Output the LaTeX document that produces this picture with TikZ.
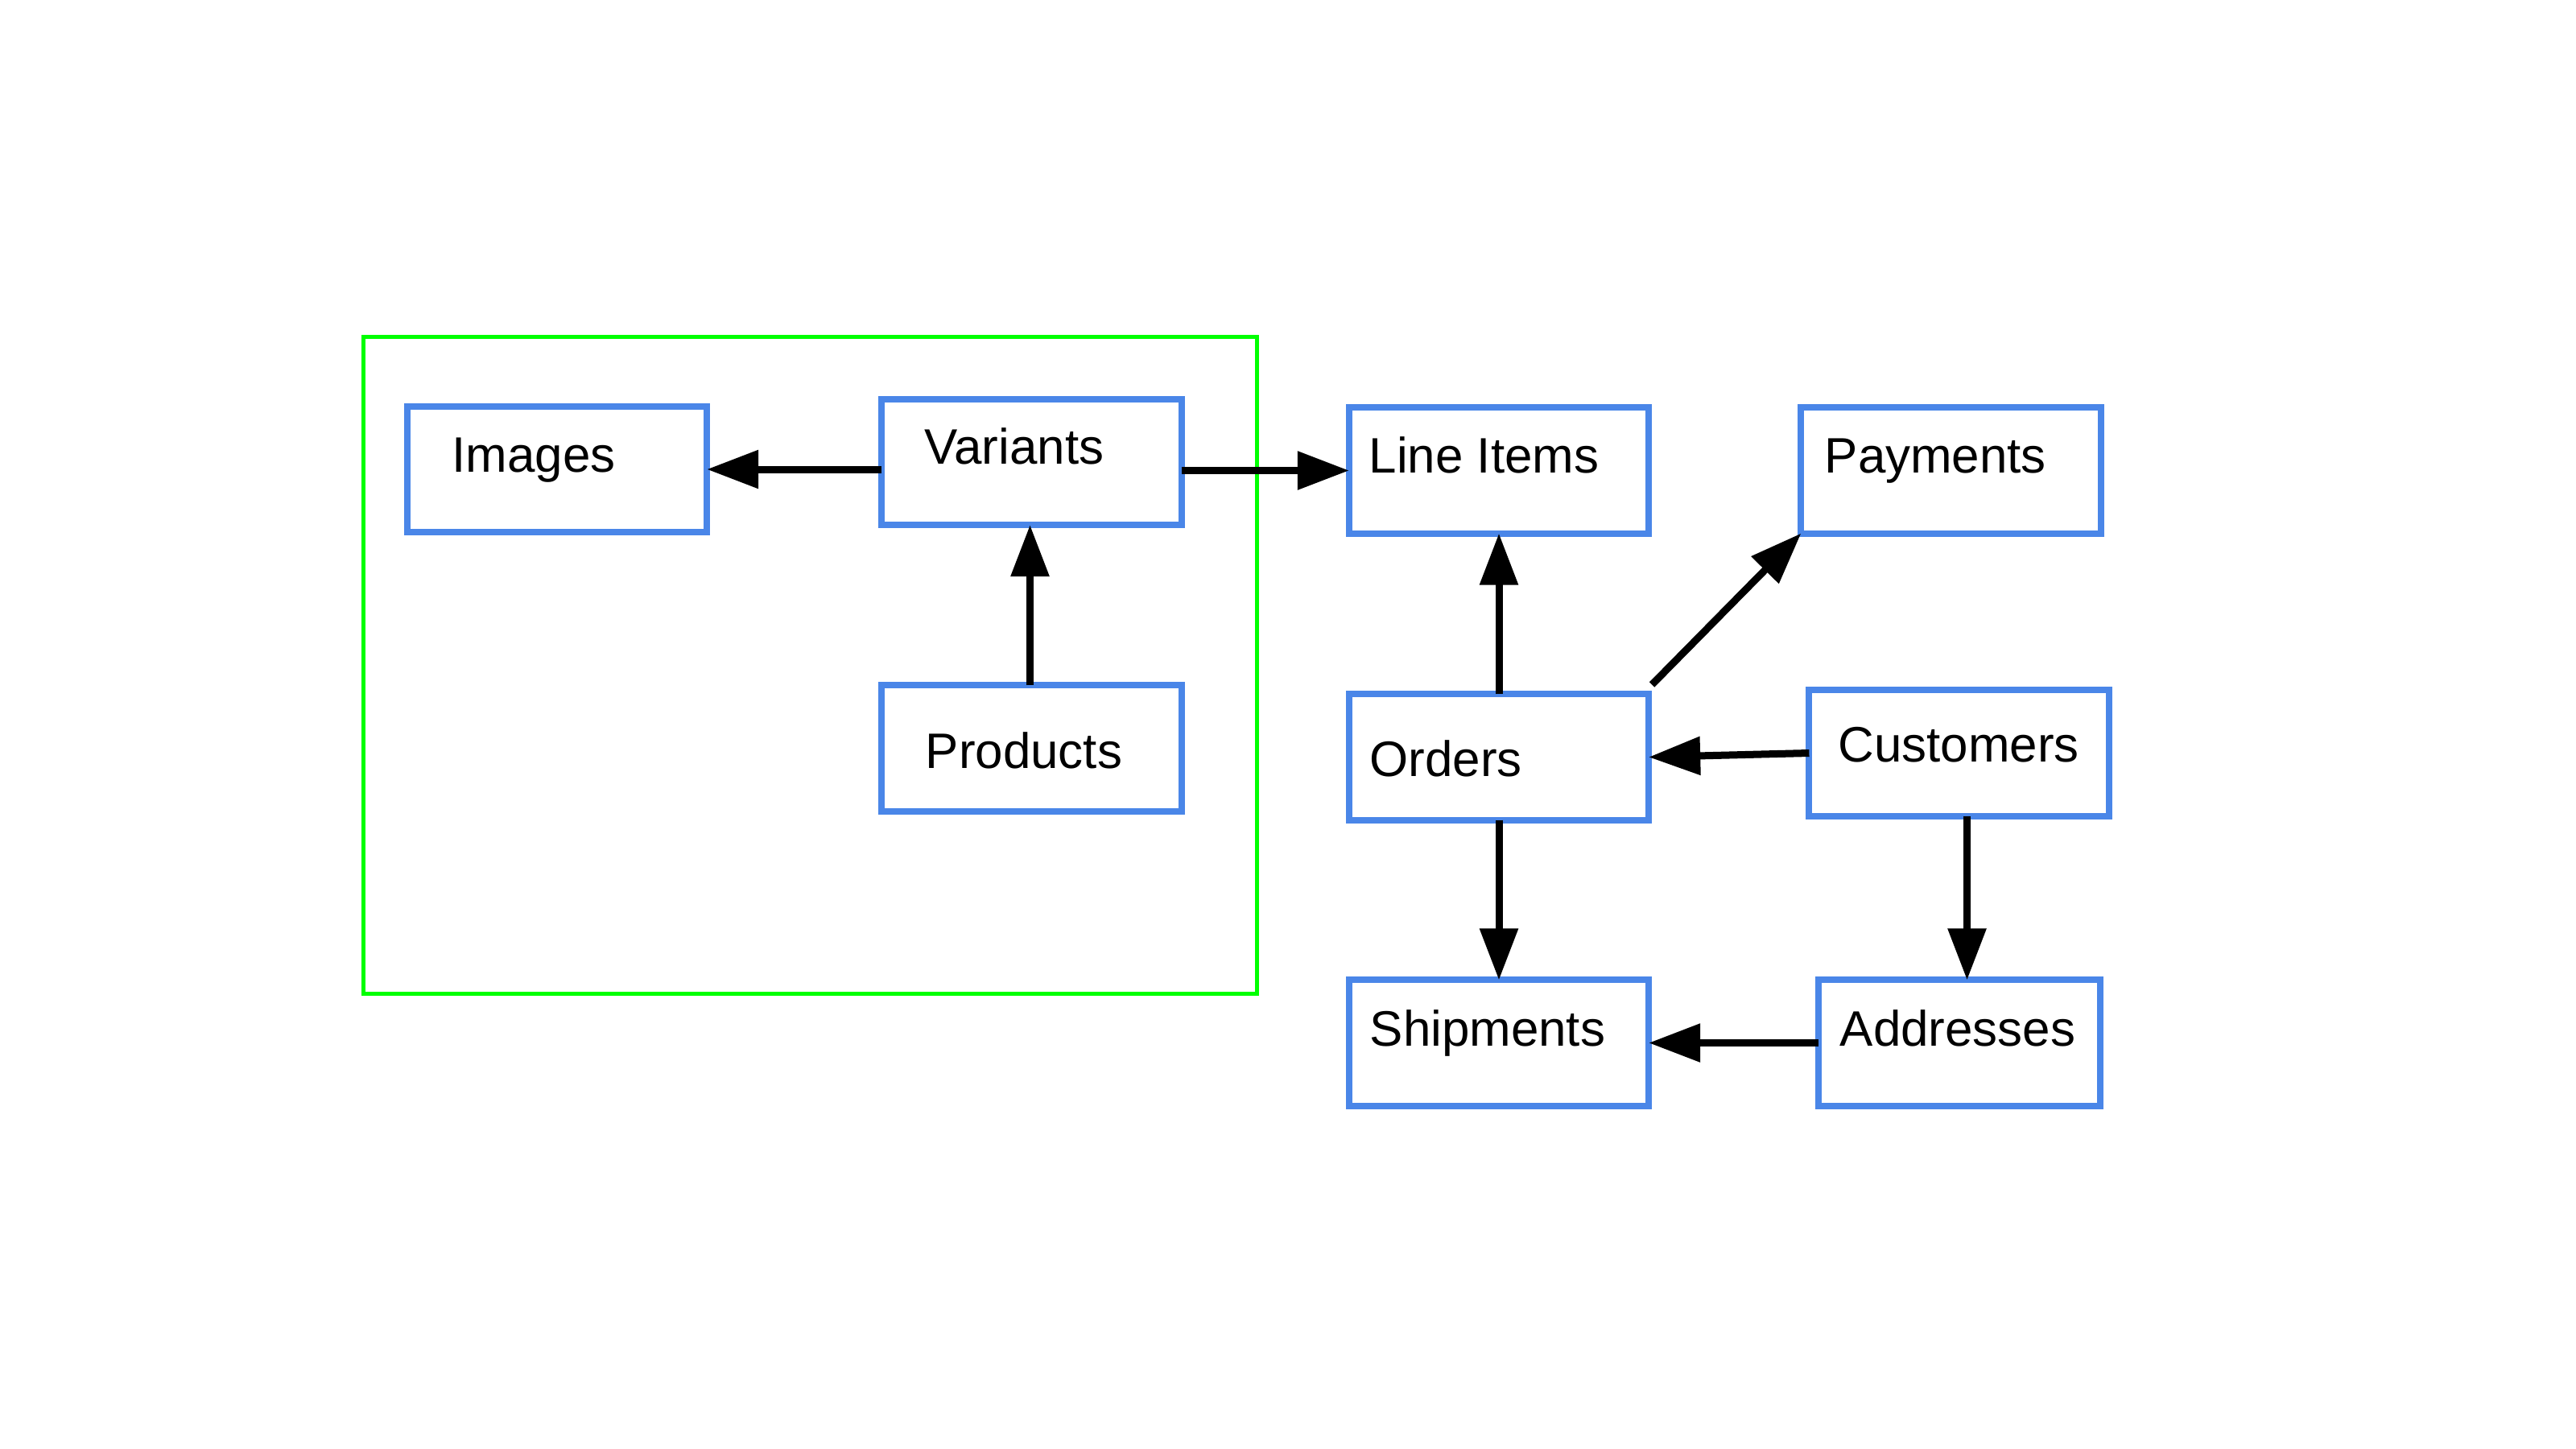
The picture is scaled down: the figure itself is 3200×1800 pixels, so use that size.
\documentclass[tikz,border=0pt]{standalone}
\usepackage{fontspec}
\setmainfont{Liberation Sans}
\usetikzlibrary{arrows.meta}
\definecolor{boxblue}{HTML}{4A86E8}
\definecolor{grp}{HTML}{00FF00}
\tikzset{
  ent/.style={draw=boxblue, line width=0.08cm, rectangle, minimum width=3.72cm, minimum height=1.56cm, inner sep=0pt, outer sep=0pt, fill=white},
  lbl/.style={anchor=base west, inner sep=0pt, font=\fontsize{17.6pt}{21pt}\selectfont},
  arr/.style={line width=0.09cm, -{Triangle[length=0.64cm, width=0.46cm]}},
}
\begin{document}
\begin{tikzpicture}[x=0.01cm, y=-0.01cm]
\useasboundingbox (0,0) rectangle (3200,1800);
\fill[white] (0,0) rectangle (3200,1800);
\draw[grp, line width=0.05cm] (451.5,418.5) rectangle (1561.5,1234.5);

\node[ent] (img)  at (692,583) {};
\node[ent] (var)  at (1281.5,574) {};
\node[ent] (prod) at (1281.5,929.5) {};
\node[ent] (li)   at (1862,584.5) {};
\node[ent] (pay)  at (2423.5,584.5) {};
\node[ent] (ord)  at (1862,940.5) {};
\node[ent] (cust) at (2433.5,935.5) {};
\node[ent] (ship) at (1862,1295.5) {};
\node[ent, minimum width=3.5cm] (addr) at (2434,1295.5) {};

\node[lbl] (imgt)  at (561,586) {Images};
\node[lbl] (vart)  at (1148,576) {Variants};
\node[lbl] (prodt) at (1149,954) {Products};
\node[lbl] (lit)   at (1700,587) {Line Items};
\node[lbl] (payt)  at (2266,587) {Payments};
\node[lbl] (ordt)  at (1701,964) {Orders};
\node[lbl] (custt) at (2283,946) {Customers};
\node[lbl] (shipt) at (1701,1299) {Shipments};
\node[lbl] (addrt) at (2285,1299) {Addresses};

\draw[arr] (var.west |- img.east) -- (img.east);
\draw[arr] (var.east |- li.west) -- (li.west);
\draw[arr] ([xshift=-0.02cm]prod.north) -- ([xshift=-0.02cm]var.south);
\draw[arr] (ord.north) -- (li.south);
\draw[arr] ([xshift=0.04cm,yshift=0.12cm]ord.north east) -- (pay.south west);
\draw[arr] (cust.west) -- (ord.east);
\draw[arr] (ord.south) -- (ship.north);
\draw[arr] ([xshift=0.1cm]cust.south) -- ([xshift=0.1cm]cust.south |- addr.north);
\draw[arr] (addr.west) -- (ship.east);
\end{tikzpicture}
\end{document}
